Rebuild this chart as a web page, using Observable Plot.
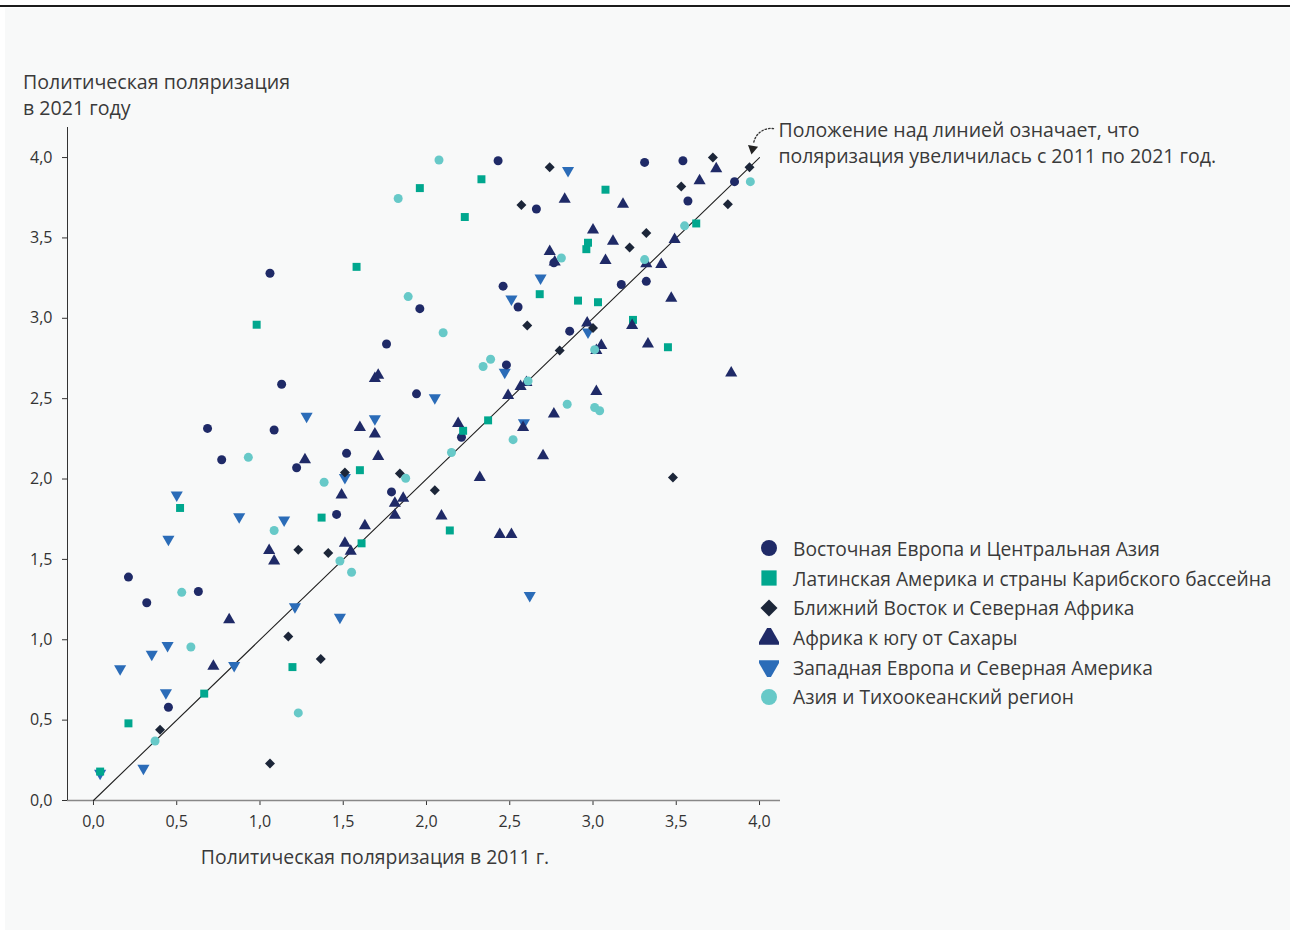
<!DOCTYPE html>
<html><head><meta charset="utf-8">
<script src="https://cdn.jsdelivr.net/npm/d3@7"></script>
<script src="https://cdn.jsdelivr.net/npm/@observablehq/plot@0.6"></script>
<style>
body{margin:0;background:#fff;font-family:"Open Sans",sans-serif;color:#3a3a3a}
#wrap{position:relative;width:1295px;height:934px;overflow:hidden}
#panel{position:absolute;left:5px;top:8px;width:1285px;height:922px;background:#f8f9f9}
#topline{position:absolute;left:0;top:5px;width:1290px;height:2px;background:#1b1b1b}
#chart{position:absolute;left:0;top:0}
.ylabel{position:absolute;left:23px;top:69px;font-size:19.6px;line-height:26px}
.xlabel{position:absolute;left:0;width:750px;text-align:center;top:843px;font-size:19.4px}
#legend{position:absolute;left:759px;top:533.6px}
.item{height:29.7px;display:flex;align-items:center;font-size:19.2px;white-space:nowrap}
.item svg{margin-right:14px}
</style></head>
<body>
<div id="wrap">
  <div id="panel"></div>
  <div id="topline"></div>
  <div id="chart"></div>
  <div class="ylabel">Политическая поляризация<br>в 2021 году</div>
  <div class="xlabel">Политическая поляризация в 2011 г.</div>
  <div id="legend"></div>
</div>
<script>
const regions = [
  "Восточная Европа и Центральная Азия",
  "Латинская Америка и страны Карибского бассейна",
  "Ближний Восток и Северная Африка",
  "Африка к югу от Сахары",
  "Западная Европа и Северная Америка",
  "Азия и Тихоокеанский регион"
];
const colors = ["#1f2a67", "#00a78e", "#1c2639", "#1f2a67", "#2b6cb8", "#67c9c8"];

// [polarization 2011, polarization 2021]
const eeca = [[1.06,3.28],[2.43,3.98],[2.66,3.68],[2.46,3.20],[2.55,3.07],[1.96,3.06],[1.76,2.84],[2.48,2.71],
  [3.31,3.97],[3.54,3.98],[3.85,3.85],[3.57,3.73],[2.765,3.345],[3.17,3.21],[3.32,3.23],[2.86,2.92],[1.94,2.53],
  [2.21,2.26],[1.52,2.16],[1.79,1.92],[1.46,1.78],[1.13,2.59],[0.685,2.315],[1.085,2.305],[0.77,2.12],[1.22,2.07],
  [0.21,1.39],[0.63,1.30],[0.32,1.23],[0.45,0.58]];
const latam = [[0.98,2.96],[2.33,3.865],[1.96,3.81],[2.23,3.63],[1.58,3.32],[2.68,3.15],[3.075,3.80],[3.62,3.59],
  [2.97,3.47],[2.96,3.43],[2.91,3.11],[3.03,3.10],[3.24,2.99],[3.45,2.82],[2.22,2.30],[2.37,2.365],[1.60,2.055],
  [1.37,1.76],[2.14,1.68],[1.61,1.60],[0.52,1.82],[1.195,0.83],[0.665,0.665],[0.21,0.48],[0.04,0.18]];
const mena = [[2.57,3.705],[2.605,2.955],[2.74,3.94],[3.72,4.00],[3.94,3.94],[3.53,3.82],[3.81,3.71],[3.32,3.53],
  [3.22,3.44],[3.00,2.94],[2.80,2.80],[3.48,2.01],[1.51,2.04],[1.84,2.035],[2.05,1.93],[1.41,1.54],[1.23,1.56],
  [1.17,1.02],[1.365,0.88],[0.40,0.44],[1.06,0.23]];
const ssa = [[3.74,3.93],[3.64,3.855],[2.83,3.74],[3.18,3.71],[3.00,3.55],[3.49,3.49],[3.12,3.48],[2.74,3.415],
  [2.77,3.35],[3.075,3.36],[3.32,3.34],[3.41,3.335],[3.47,3.125],[3.235,2.955],[2.965,2.97],[3.33,2.84],[3.05,2.83],
  [3.02,2.80],[3.83,2.66],[3.02,2.545],[2.765,2.405],[2.70,2.145],[1.69,2.625],[1.71,2.645],[2.565,2.575],[2.60,2.60],
  [2.49,2.52],[1.60,2.32],[1.69,2.28],[2.19,2.345],[2.58,2.32],[1.71,2.14],[2.32,2.01],[1.49,1.90],[1.86,1.88],
  [1.81,1.85],[1.81,1.775],[2.09,1.77],[1.63,1.71],[2.44,1.655],[2.51,1.655],[1.51,1.60],[1.545,1.55],[1.27,2.12],
  [1.055,1.555],[1.085,1.49],[0.815,1.125],[0.72,0.835]];
const wena = [[2.85,3.92],[2.685,3.25],[2.51,3.12],[2.97,2.915],[2.47,2.665],[2.05,2.505],[1.69,2.375],[2.585,2.35],
  [1.51,2.01],[1.28,2.39],[0.50,1.90],[0.875,1.765],[1.145,1.745],[0.45,1.625],[1.21,1.205],[0.445,0.965],[0.35,0.91],
  [0.845,0.84],[0.16,0.82],[0.435,0.67],[0.30,0.20],[0.04,0.17],[1.48,1.14],[2.62,1.275]];
const asia = [[2.075,3.985],[1.83,3.745],[1.89,3.135],[2.10,2.91],[2.385,2.745],[2.34,2.70],[3.945,3.85],[3.55,3.575],
  [2.81,3.375],[3.31,3.365],[3.01,2.805],[2.61,2.61],[2.52,2.245],[2.15,2.165],[1.385,1.98],[1.875,2.005],[1.48,1.49],
  [1.55,1.42],[2.845,2.465],[3.01,2.445],[3.04,2.425],[0.93,2.135],[1.085,1.68],[0.53,1.295],[0.585,0.955],[1.23,0.545],
  [0.37,0.37]];

const groups = [eeca, latam, mena, ssa, wena, asia];
const drawOrder = [4, 0, 1, 3, 2, 5];

const xTicks = [0, 0.5, 1, 1.5, 2, 2.5, 3, 3.5, 4];
const yTicks = [0, 0.5, 1, 1.5, 2, 2.5, 3, 3.5, 4];
const xDomain = [-0.156, 4.126];
const yDomain = [0, 4.187];
const diagonal = [0, 4];

const annotationLines = ["Положение над линией означает, что", "поляризация увеличилась с 2011 по 2021 год."];
const annotationAt = [{x: 4.114, y: 4.10}];
const arrowPath = [{x1: 4.084, y1: 4.18, x2: 3.964, y2: 4.087}];
const arrowHead = [{x: 3.958, y: 4.055}];

const triangleDown = {
  draw(context, size) {
    const y = -Math.sqrt(size / (Math.sqrt(3) * 3));
    context.moveTo(0, -2 * y);
    context.lineTo(-Math.sqrt(3) * y, y);
    context.lineTo(Math.sqrt(3) * y, y);
    context.closePath();
  }
};
const symbols = ["circle", "square", "diamond2", "triangle", triangleDown, "circle"];

const table = drawOrder.flatMap(i => groups[i].map(([x, y]) => ({x, y, region: regions[i]})));
const fmt = d => d.toFixed(1).replace(".", ",");

const chart = Plot.plot({
  width: 1295, height: 934,
  marginLeft: 67, marginRight: 515, marginTop: 127, marginBottom: 134,
  style: {background: "transparent", fontFamily: "'Open Sans', sans-serif", fontSize: "16px", color: "#333", overflow: "visible"},
  x: {domain: xDomain, ticks: xTicks, tickFormat: fmt, tickSize: 5, tickPadding: 10, label: null},
  y: {domain: yDomain, ticks: yTicks, tickFormat: fmt, tickSize: 5, tickPadding: 10, label: null},
  color: {domain: regions, range: colors},
  symbol: {domain: regions, range: symbols},
  marks: [
    Plot.ruleY([yDomain[0]], {stroke: "#888", strokeWidth: 1.5}),
    Plot.ruleX([xDomain[0]], {stroke: "#333", strokeWidth: 1}),
    Plot.line(diagonal, {x: d => d, y: d => d, stroke: "#222", strokeWidth: 1.1}),
    Plot.dot(table, {x: "x", y: "y", fill: "region", symbol: "region", r: 4.5}),
    Plot.arrow(arrowPath, {x1: "x1", y1: "y1", x2: "x2", y2: "y2", bend: -45, headLength: 0, stroke: "#333", strokeWidth: 1.3, strokeDasharray: "1.5,2"}),
    Plot.dot(arrowHead, {x: "x", y: "y", symbol: "triangle", r: 3.8, fill: "#222", rotate: 190}),
    Plot.text(annotationAt, {x: "x", y: "y", text: () => annotationLines.join("\n"), textAnchor: "start", lineAnchor: "middle", lineHeight: 1.33, fontSize: 19.5, fill: "#3a3a3a"})
  ]
});
document.getElementById("chart").appendChild(chart);

// legend
const legend = document.getElementById("legend");
regions.forEach((name, i) => {
  const item = document.createElement("div");
  item.className = "item";
  const sym = [d3.symbolCircle, d3.symbolSquare, null, d3.symbolTriangle, triangleDown, d3.symbolCircle][i];
  let path;
  if (i === 2) {
    path = `<rect x="-6" y="-6" width="12" height="12" transform="rotate(45)" fill="${colors[i]}"/>`;
  } else {
    const r = i === 0 || i === 5 ? 8 : 8.6;
    path = `<path d="${d3.symbol(sym, Math.PI * r * r)()}" fill="${colors[i]}"/>`;
  }
  item.innerHTML = `<svg width="20" height="20" viewBox="-10 -10 20 20">${path}</svg><span>${name}</span>`;
  legend.appendChild(item);
});
</script>
</body></html>
